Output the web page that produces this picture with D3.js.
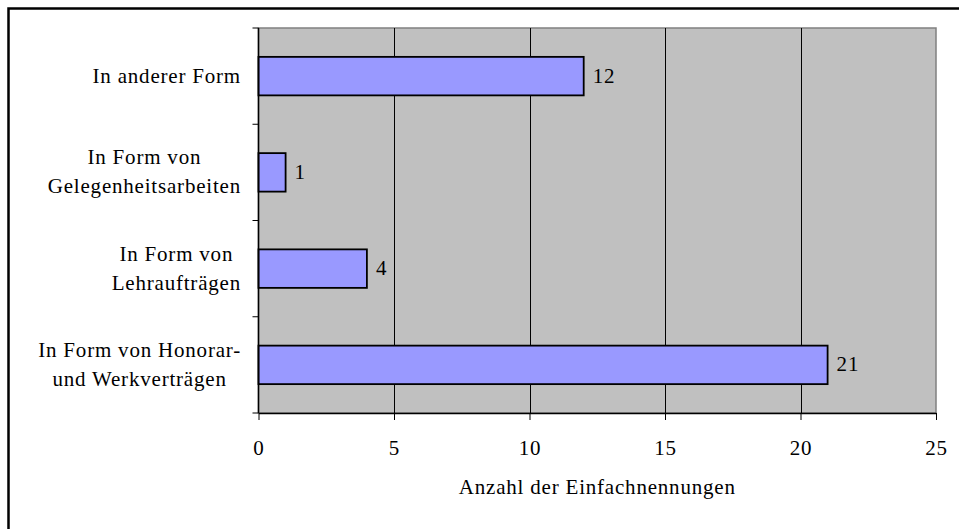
<!DOCTYPE html>
<html>
<head>
<meta charset="utf-8">
<script src="https://cdn.jsdelivr.net/npm/d3@7"></script>
<style>
  body { margin: 0; background: #fff; }
  svg { display: block; }
</style>
</head>
<body>
<div id="chart_div"></div>
<script>
// chart data
var categories = [
    ["In anderer Form"],
    ["In Form von", "Gelegenheitsarbeiten"],
    ["In Form von", "Lehraufträgen"],
    ["In Form von Honorar-", "und Werkverträgen"]
];
var values = [12, 1, 4, 21];
var xTicks = [0, 5, 10, 15, 20, 25];
var xTitle = "Anzahl der Einfachnennungen";

var w = 959, h = 529;
var fontSize = 21;
var serif = "'Liberation Serif', 'Times New Roman', serif";
var spacing = "0.8px";
var margin = {top: 28, right: 23, bottom: 116, left: 258.5};

var chart = d3.select("#chart_div")
    .append("svg")
    .attr("width", w)
    .attr("height", h)
    .style("font-family", serif);

// outer frame (runs off the right / bottom edge like the original)
chart.append("rect")
    .attr("x", 8.5)
    .attr("y", 8.5)
    .attr("width", 1000)
    .attr("height", 600)
    .attr("fill", "none")
    .attr("stroke", "#000")
    .attr("stroke-width", 2.5);

var x = d3.scaleLinear()
    .domain([0, 25])
    .range([margin.left, w - margin.right]);

var y = d3.scaleBand()
    .domain(d3.range(categories.length))
    .range([margin.top, h - margin.bottom])
    .paddingInner(0.6)
    .paddingOuter(0.3);

var plotTop = margin.top, plotBottom = h - margin.bottom;

// plot area
chart.append("rect")
    .attr("x", x(0))
    .attr("y", plotTop)
    .attr("width", x(25) - x(0))
    .attr("height", plotBottom - plotTop)
    .attr("fill", "#c0c0c0")
    .attr("stroke", "#808080")
    .attr("stroke-width", 1.5);

// vertical grid lines
for (var i = 1; i < xTicks.length - 1; i++){
    chart.append("line")
        .attr("x1", Math.round(x(xTicks[i])) + 0.5)
        .attr("x2", Math.round(x(xTicks[i])) + 0.5)
        .attr("y1", plotTop)
        .attr("y2", plotBottom)
        .attr("stroke", "#000")
        .attr("stroke-width", 1);
}

// bars
chart.selectAll(".bar")
    .data(values)
    .enter().append("rect")
    .attr("class", "bar")
    .attr("x", x(0))
    .attr("y", function(d, i){ return y(i); })
    .attr("width", function(d){ return x(d) - x(0); })
    .attr("height", y.bandwidth())
    .attr("fill", "#9999ff")
    .attr("stroke", "#000")
    .attr("stroke-width", 1.8);

// value labels
chart.selectAll(".val")
    .data(values)
    .enter().append("text")
    .attr("class", "val")
    .attr("x", function(d){ return x(d) + 9; })
    .attr("y", function(d, i){ return y(i) + y.bandwidth() / 2 + 6.5; })
    .style("font-size", fontSize + "px")
    .style("letter-spacing", spacing)
    .text(function(d){ return d; });

// x axis
var xAxis = chart.append("g")
    .attr("transform", "translate(0," + plotBottom + ")")
    .call(d3.axisBottom(x).tickValues(xTicks).tickSize(7).tickPadding(20).tickSizeOuter(0));
xAxis.attr("font-family", null).attr("font-size", null);
xAxis.select(".domain").attr("stroke", "#000").attr("stroke-width", 1.5);
xAxis.selectAll(".tick text")
    .style("font-size", fontSize + "px")
    .style("letter-spacing", spacing);

// y axis: ticks sit on the band boundaries
var yLine = chart.append("g");
yLine.append("line")
    .attr("x1", x(0)).attr("x2", x(0))
    .attr("y1", plotTop).attr("y2", plotBottom)
    .attr("stroke", "#000")
    .attr("stroke-width", 1.5);
for (var k = 0; k <= categories.length; k++){
    var ty = plotTop + k * (plotBottom - plotTop) / categories.length;
    yLine.append("line")
        .attr("x1", x(0) - 6).attr("x2", x(0))
        .attr("y1", ty).attr("y2", ty)
        .attr("stroke", "#000")
        .attr("stroke-width", 1);
}

// category labels: lines centred within a right-aligned block
var labelRight = 241;
var lineGap = 29;
for (var c = 0; c < categories.length; c++){
    var lines = categories[c];
    var cy = y(c) + y.bandwidth() / 2;
    var g = chart.append("g");
    var texts = [];
    var maxW = 0;
    for (var l = 0; l < lines.length; l++){
        var t = g.append("text")
            .attr("y", cy + 6.5 + (l - (lines.length - 1) / 2) * lineGap)
            .attr("text-anchor", "middle")
            .style("font-size", fontSize + "px")
            .style("letter-spacing", spacing)
            .text(lines[l]);
        maxW = Math.max(maxW, t.node().getBBox().width);
        texts.push(t);
    }
    for (var l = 0; l < texts.length; l++){
        texts[l].attr("x", labelRight - maxW / 2);
    }
}

// axis title
chart.append("text")
    .attr("x", (x(0) + x(25)) / 2)
    .attr("y", 494)
    .attr("text-anchor", "middle")
    .style("font-size", fontSize + "px")
    .style("letter-spacing", spacing)
    .text(xTitle);
</script>
</body>
</html>
